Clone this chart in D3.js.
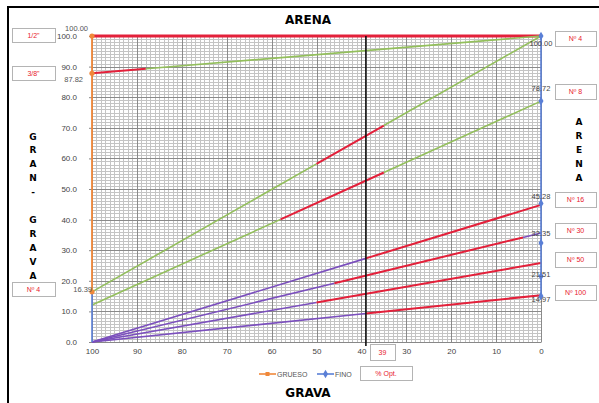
<!DOCTYPE html>
<html><head><meta charset="utf-8">
<script src="https://cdn.jsdelivr.net/npm/d3@7"></script>
<style>body{margin:0;background:#fff;} svg{display:block;font-family:"Liberation Sans",Arial,sans-serif;}</style>
</head><body><svg id="c" width="599" height="403"></svg>
<script>
// ---- data ----
const sieves = ["1/2\"", "3/8\"", "Nº 4", "Nº 8", "Nº 16", "Nº 30", "Nº 50", "Nº 100"];
const gravelPassing = [100, 87.82, 16.39, 12.1, 0, 0, 0, 0];      // value at 100 % grava
const sandPassing   = [100, 100, 100, 78.72, 44.8, 35.6, 25.8, 15.3]; // value at 0 % grava
const specFrom = [100, 100, 50, 58, 39, 46, 50, 39];  // % grava where red (within spec) part starts
const specTo   = [0, 88, 35, 35, 0, 4, 0, 0];          // % grava where red part ends
const gruesoValues = [100, 87.82, 16.39];
const gruesoLabels = ["100.00", "87.82", "16.39"];
const finoValues = [100, 78.72, 45.28, 32.35, 21.51, 14.97];
const finoLabels = ["100.00", "78.72", "45.28", "32.35", "21.51", "14.97"];
const finoLeft = [0, 16.39];
const optimo = 39;
const xTicks = [100, 90, 80, 70, 60, 50, 40, 30, 20, 10, 0];
const yTicks = [0, 10, 20, 30, 40, 50, 60, 70, 80, 90, 100];
const leftBoxes = ["1/2\"", "3/8\"", "Nº 4"];
const rightBoxes = ["Nº 4", "Nº 8", "Nº 16", "Nº 30", "Nº 50", "Nº 100"];
const leftTitle = ["G","R","A","N","-","","G","R","A","V","A"];
const rightTitle = ["A","R","E","N","A"];

// ---- layout / style ----
const svg = d3.select("#c");
const x = d3.scaleLinear().domain([100, 0]).range([92, 541]);
const y = d3.scaleLinear().domain([0, 100]).range([342, 36]);
const GREEN = "#93bf5c", RED = "#e3203a", PURPLE = "#7b4fbd", ORANGE = "#f0883a", BLUE = "#5a7fd6";

// frame
svg.append("rect").attr("x", 8).attr("y", 7).attr("width", 640).attr("height", 440)
  .attr("fill", "none").attr("stroke", "#000").attr("stroke-width", 2);

// grid
const g = svg.append("g").attr("shape-rendering", "crispEdges");
const minor = d3.range(0, 101, 1);
g.selectAll(".vm").data(minor.filter(d => d % 10)).join("line")
  .attr("x1", d => Math.round(x(d)) + 0.5).attr("x2", d => Math.round(x(d)) + 0.5)
  .attr("y1", y(100)).attr("y2", y(0)).attr("stroke", "#c4c4c4");
g.selectAll(".hm").data(minor.filter(d => d % 10)).join("line")
  .attr("y1", d => Math.round(y(d)) + 0.5).attr("y2", d => Math.round(y(d)) + 0.5)
  .attr("x1", x(100)).attr("x2", x(0)).attr("stroke", "#c4c4c4");
g.selectAll(".vM").data(xTicks).join("line")
  .attr("x1", d => Math.round(x(d)) + 0.5).attr("x2", d => Math.round(x(d)) + 0.5)
  .attr("y1", y(100)).attr("y2", y(0)).attr("stroke", "#8a8a8a");
g.selectAll(".hM").data(yTicks).join("line")
  .attr("y1", d => Math.round(y(d)) + 0.5).attr("y2", d => Math.round(y(d)) + 0.5)
  .attr("x1", x(100)).attr("x2", x(0)).attr("stroke", "#8a8a8a");

// axes
const xAxis = d3.axisBottom(x).tickValues(xTicks).tickSize(0).tickPadding(6).tickFormat(d3.format("d"));
const ax = svg.append("g").attr("transform", `translate(0,${y(0)})`).call(xAxis);
ax.select(".domain").attr("stroke", "#888");
ax.selectAll("text").attr("font-size", 8).attr("fill", "#444").attr("font-family", "Liberation Sans, Arial");
const yAxis = d3.axisLeft(y).tickValues(yTicks).tickSize(3).tickPadding(12).tickFormat(d3.format(".1f"));
const ay = svg.append("g").attr("transform", `translate(${x(100)},0)`).call(yAxis);
ay.select(".domain").remove();
ay.selectAll(".tick line").attr("stroke", "#888");
ay.selectAll("text").attr("font-size", 8).attr("fill", "#444").attr("font-family", "Liberation Sans, Arial");

// blend lines
const val = (i, xv) => gravelPassing[i] + (sandPassing[i] - gravelPassing[i]) * (100 - xv) / 100;
const lg = svg.append("g").attr("fill", "none").attr("stroke-linecap", "butt");
sieves.forEach((s, i) => {
  const base = i < 4 ? GREEN : PURPLE;
  const segs = [[100, specFrom[i], base], [specFrom[i], specTo[i], RED], [specTo[i], 0, base]];
  segs.forEach(([a, b, c]) => {
    if (a === b) return;
    lg.append("line")
      .attr("x1", x(a)).attr("y1", y(val(i, a))).attr("x2", x(b)).attr("y2", y(val(i, b)))
      .attr("stroke", c).attr("stroke-width", i === 0 ? 3 : (c === RED ? 2 : 1.6));
  });
});

// optimum line
svg.append("line").attr("x1", x(optimo)).attr("x2", x(optimo)).attr("y1", y(100)).attr("y2", y(0) + 4)
  .attr("stroke", "#111").attr("stroke-width", 1.6);

// FINO series (right axis) + left portion
svg.append("path").datum(finoValues)
  .attr("d", d3.line().x(() => x(0)).y(d => y(d))).attr("fill", "none").attr("stroke", BLUE).attr("stroke-width", 1.6);
svg.append("path").datum(finoLeft)
  .attr("d", d3.line().x(() => x(100)).y(d => y(d))).attr("fill", "none").attr("stroke", BLUE).attr("stroke-width", 1.6);
// GRUESO series (left axis)
svg.append("path").datum(gruesoValues)
  .attr("d", d3.line().x(() => x(100)).y(d => y(d))).attr("fill", "none").attr("stroke", ORANGE).attr("stroke-width", 1.8);

svg.selectAll(".gm").data(gruesoValues).join("circle")
  .attr("cx", x(100)).attr("cy", d => y(d)).attr("r", 2.6).attr("fill", ORANGE);
const diamond = d3.symbol().type(d3.symbolDiamond).size(22);
svg.selectAll(".fm").data(finoValues).join("path")
  .attr("d", diamond).attr("transform", d => `translate(${x(0)},${y(d)})`).attr("fill", BLUE);

// data labels
const gOff = [[-4, -5], [-9, 9], [0, 0]];
svg.selectAll(".gl").data(gruesoValues).join("text")
  .attr("x", (d, i) => x(100) + gOff[i][0]).attr("y", (d, i) => y(d) + gOff[i][1])
  .attr("text-anchor", "end").attr("font-size", 7.5).attr("fill", "#555").text((d, i) => gruesoLabels[i]);
const fOff = [10, -10, -4, -7, 1, 6];
svg.selectAll(".fl").data(finoValues).join("text")
  .attr("x", x(0)).attr("y", (d, i) => y(d) + fOff[i]).attr("text-anchor", "middle")
  .attr("font-size", 7.5).attr("fill", "#444").text((d, i) => finoLabels[i]);

// titles
svg.append("text").attr("x", 308).attr("y", 24).attr("text-anchor", "middle")
  .attr("font-family", "DejaVu Sans").attr("font-weight", "bold").attr("font-size", 12).text("ARENA");
svg.append("text").attr("x", 308).attr("y", 397).attr("text-anchor", "middle")
  .attr("font-family", "DejaVu Sans").attr("font-weight", "bold").attr("font-size", 12).text("GRAVA");
svg.selectAll(".lt").data(leftTitle).join("text")
  .attr("x", 33).attr("y", (d, i) => 139.5 + i * 13.9).attr("text-anchor", "middle")
  .attr("font-family", "DejaVu Sans").attr("font-weight", "bold").attr("font-size", 9).text(d => d);
svg.selectAll(".rt").data(rightTitle).join("text")
  .attr("x", 579).attr("y", (d, i) => 124.5 + i * 14.2).attr("text-anchor", "middle")
  .attr("font-family", "DejaVu Sans").attr("font-weight", "bold").attr("font-size", 9).text(d => d);

// red boxes
function box(x0, y0, w, h, t) {
  svg.append("rect").attr("x", x0 + 0.5).attr("y", y0 + 0.5).attr("width", w).attr("height", h)
    .attr("fill", "#fff").attr("stroke", "#b4b4b4");
  svg.append("text").attr("x", x0 + w / 2).attr("y", y0 + h / 2 + 2.5).attr("text-anchor", "middle")
    .attr("font-size", 7).attr("fill", "#e8192c").text(t);
}
const leftBoxY = [28, 66, 282];
leftBoxes.forEach((t, i) => box(12, leftBoxY[i], 43, 14, t));
const rightBoxY = [31, 84, 192, 223, 252, 285];
rightBoxes.forEach((t, i) => box(555, rightBoxY[i], 41, 15, t));
box(370, 344, 25, 16, String(optimo));
box(360, 366, 52, 14, "% Opt.");

// legend
const leg = [["GRUESO", ORANGE, 259], ["FINO", BLUE, 317]];
leg.forEach(([t, c, lx], i) => {
  svg.append("line").attr("x1", lx).attr("x2", lx + 17).attr("y1", 374).attr("y2", 374).attr("stroke", c).attr("stroke-width", 1.6);
  if (i === 0) svg.append("rect").attr("x", lx + 6.5).attr("y", 372).attr("width", 4).attr("height", 4).attr("fill", c);
  else svg.append("path").attr("d", diamond).attr("transform", `translate(${lx + 8.5},374)`).attr("fill", c);
  svg.append("text").attr("x", lx + 18).attr("y", 376.5).attr("font-size", 7).attr("fill", "#555").text(t);
});
</script></body></html>
